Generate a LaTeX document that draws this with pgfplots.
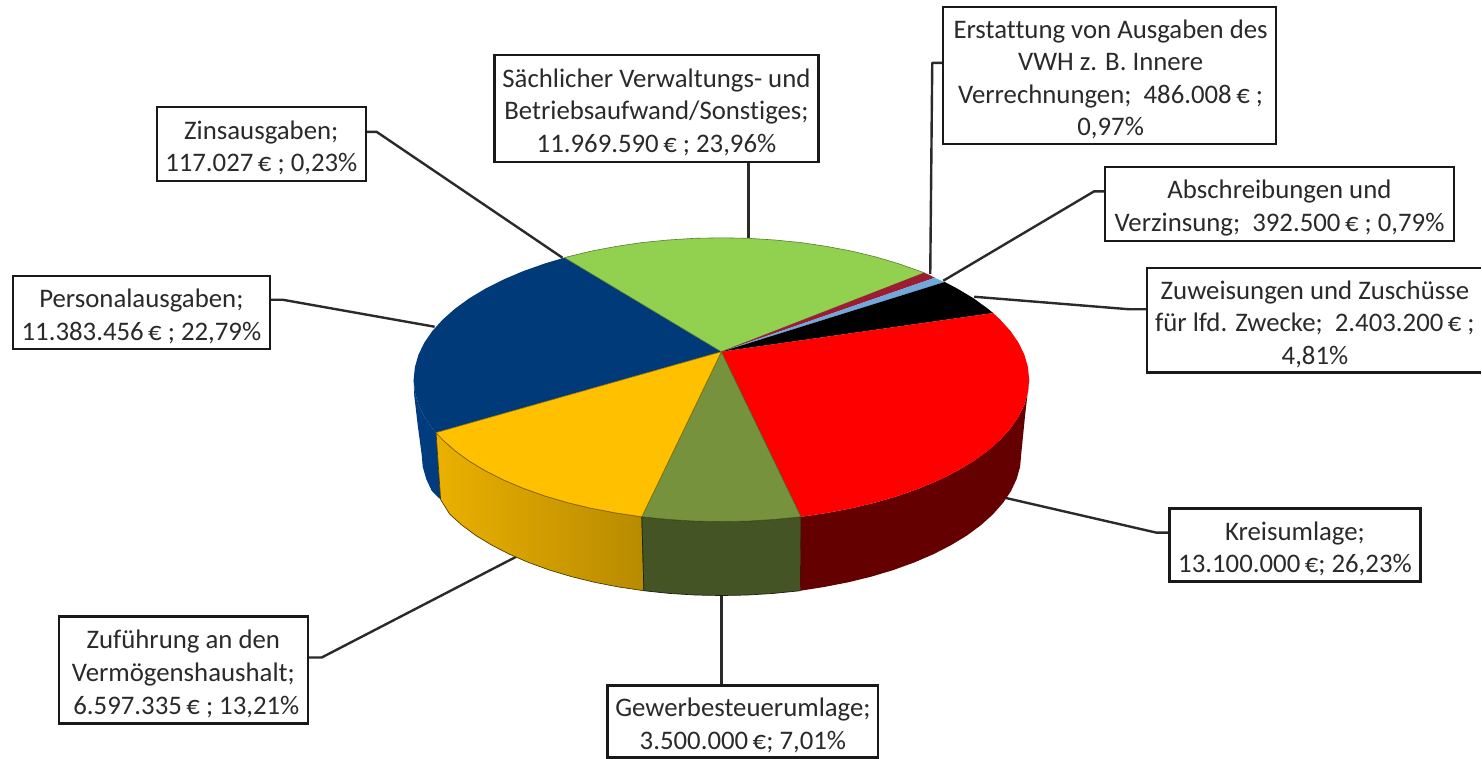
\documentclass[border=0pt]{standalone}
\usepackage{pgfplots}
\pgfplotsset{compat=1.18}
\usepackage{fontspec}
\setmainfont{Carlito}[Ligatures=NoCommon]
\definecolor{cgreen}{HTML}{92D050}
\definecolor{cdred}{HTML}{9E1B32}
\definecolor{clblue}{HTML}{6FA8DC}
\definecolor{cred}{HTML}{FF0000}
\definecolor{cdside}{HTML}{640000}
\definecolor{colive}{HTML}{76923C}
\definecolor{coside}{HTML}{445424}
\definecolor{cyellow}{HTML}{FFC000}
\definecolor{cnavy}{HTML}{003A78}
\definecolor{cnside}{HTML}{003C7E}
\definecolor{ctext}{HTML}{2A2A2A}
\pgfplotsset{
  lead/.style={draw=ctext,line width=1.2pt,line join=round,no markers,forget plot},
  wedge/.style={no markers,forget plot,line join=round}}
\begin{document}
\begin{tikzpicture}[
  box/.style={draw=black!90,line width=1.2pt,fill=white,inner sep=0pt},
  txt/.style={align=center,text=ctext,font=\fontsize{13.4}{16.3}\selectfont,inner sep=0pt,yshift=-2pt}]
\begin{axis}[
  scale only axis,width=741pt,height=379.5pt,
  xmin=0,xmax=1482,ymin=0,ymax=759,y dir=reverse,
  axis lines=none,clip=false]
\addplot[draw=none,no markers,forget plot] coordinates {(0,0)(1482,759)};
% leader lines
\addplot[lead] coordinates {(944,63)(933,63)(931,274)};
\addplot[lead] coordinates {(1106,191.5)(1095,191.5)(944,281)};
\addplot[lead] coordinates {(1148,309.5)(1130,309.5)(975,297)};
\addplot[lead] coordinates {(1170,533)(1157,533)(1005,498)};
\addplot[lead] coordinates {(722,686)(722,596)};
\addplot[lead] coordinates {(308,658)(322,658)(517,557)};
\addplot[lead] coordinates {(270,300)(283,300)(435,327)};
\addplot[lead] coordinates {(366,132)(377,132)(563,258)};
\addplot[lead] coordinates {(749,162)(749,238)};
% side: navy
\addplot[wedge,fill=cnside,draw=none] coordinates {(436.4,433)(432.6,428.6)(424.5,416.8)(418.7,404.7)(415.2,392.4)(414,380)(414.5,395)(418,425)(422,455)(423.1,467.3)(426.6,479.5)(432.2,491.5)(441,500)} --cycle;
% side: yellow
\addplot[wedge,left color=cyellow!92!black,right color=cyellow!72!black,draw=black!70!cyellow,line width=0.35pt] coordinates {(642.3,517.2)(616.7,513.4)(591.8,508.7)(568,503)(545.3,496.3)(524,488.8)(504.2,480.4)(486.1,471.3)(469.7,461.5)(455.3,451)(442.9,440)(436.4,433)(441,500)(450.1,514.6)(462.2,525.5)(476.2,535.9)(492.2,545.6)(509.9,554.7)(529.2,563)(549.9,570.5)(572,577.1)(595.2,582.8)(619.4,587.5)(644.4,591.2)} --cycle;
% side: olive
\addplot[wedge,fill=coside,draw=black!60!coside,line width=0.35pt] coordinates {(801.7,517.2)(775.5,519.8)(748.9,521.5)(722,522)(695.1,521.5)(668.5,519.8)(642.3,517.2)(644.4,591.2)(669.9,593.9)(695.8,595.5)(722,596)(748.2,595.5)(774.1,593.9)(801,591.2)} --cycle;
% side: red
\addplot[wedge,fill=cdside,draw=none] coordinates {(1030,380)(1028.8,392.4)(1025.3,404.7)(1019.5,416.8)(1011.4,428.6)(1001.1,440)(988.7,451)(974.3,461.5)(957.9,471.3)(939.8,480.4)(920,488.8)(898.7,496.3)(876,503)(852.2,508.7)(827.3,513.4)(801.7,517.2)(801,591.2)(824.6,587.5)(848.8,582.8)(872,577.1)(894.1,570.5)(914.8,563)(934.1,554.7)(951.8,545.6)(967.8,535.9)(981.8,525.5)(993.9,514.6)(1003.9,503.2)(1011.8,491.5)(1017.4,479.5)(1020.9,467.3)(1022,455)(1026,415)} --cycle;
% top: navy
\addplot[wedge,fill=cnavy,draw=none] coordinates {(722,352)(436.4,433)(432.6,428.6)(424.5,416.8)(418.7,404.7)(415.2,392.4)(414,380)(415.2,367.6)(418.7,355.3)(424.5,343.2)(432.6,331.4)(442.9,320)(455.3,309)(469.7,298.5)(486.1,288.7)(504.2,279.6)(524,271.2)(545.3,263.7)(565,257.8)} --cycle;
% top: green
\addplot[wedge,fill=cgreen,draw=cgreen!60!black,line width=0.3pt] coordinates {(722,352)(565,257.8)(568,257)(591.8,251.3)(616.7,246.6)(642.3,242.8)(668.5,240.2)(695.1,238.5)(722,238)(748.9,238.5)(775.5,240.2)(801.7,242.8)(827.3,246.6)(852.2,251.3)(876,257)(898.7,263.7)(920,271.2)(925,273)} --cycle;
% top: dark red
\addplot[wedge,fill=cdred,draw=none] coordinates {(722,352)(925,273)(930,275)(935.5,278)} --cycle;
% top: light blue
\addplot[wedge,fill=clblue,draw=none] coordinates {(722,352)(935.5,278)(940,280)(945.5,282.2)} --cycle;
% top: black
\addplot[wedge,fill=black,draw=none] coordinates {(722,352)(945.5,282.2)(957.9,288.7)(974.3,298.5)(988.7,309)(994,313.3)} --cycle;
% top: red
\addplot[wedge,fill=cred,draw=none] coordinates {(722,352)(994,313.3)(1001.1,320)(1011.4,331.4)(1019.5,343.2)(1025.3,355.3)(1028.8,367.6)(1030,380)(1028.8,392.4)(1025.3,404.7)(1019.5,416.8)(1011.4,428.6)(1001.1,440)(988.7,451)(974.3,461.5)(957.9,471.3)(939.8,480.4)(920,488.8)(898.7,496.3)(876,503)(852.2,508.7)(827.3,513.4)(801.7,517.2)} --cycle;
% top: olive
\addplot[wedge,fill=colive,draw=colive!60!black,line width=0.3pt] coordinates {(722,352)(801.7,517.2)(775.5,519.8)(748.9,521.5)(722,522)(695.1,521.5)(668.5,519.8)(642.3,517.2)} --cycle;
% top: yellow
\addplot[wedge,fill=cyellow,draw=cyellow!55!black,line width=0.3pt] coordinates {(722,352)(642.3,517.2)(616.7,513.4)(591.8,508.7)(568,503)(545.3,496.3)(524,488.8)(504.2,480.4)(486.1,471.3)(469.7,461.5)(455.3,451)(442.9,440)(436.4,433)} --cycle;
% boxes
\node[box,minimum width=166.5pt,minimum height=68.5pt] at (axis cs:1110.5,75.5) {};
\node[box,minimum width=174.5pt,minimum height=37pt] at (axis cs:1280.5,204) {};
\node[box,minimum width=125.5pt,minimum height=36.5pt] at (axis cs:1296,545.5) {};
\node[box,minimum width=135.5pt,minimum height=36pt] at (axis cs:743.5,722) {};
\node[box,minimum width=124.5pt,minimum height=53.5pt] at (axis cs:183.5,670.5) {};
\node[box,minimum width=128.5pt,minimum height=36.5pt] at (axis cs:141.5,312.5) {};
\node[box,minimum width=104.5pt,minimum height=37pt] at (axis cs:261.5,144) {};
\node[box,minimum width=162pt,minimum height=53.5pt] at (axis cs:657,108.5) {};
% Zuweisungen box runs off the right edge
\addplot[no markers,forget plot,draw=black!90,line width=1.2pt,fill=white] coordinates {(1482,268)(1148,268)(1148,373)(1482,373)};
% texts
\node[txt] at (axis cs:1111.5,75.5) {Erstattung von Ausgaben des\\VWH z. B. Innere\\Verrechnungen;\ \ 486.008\,€ ;\\0,97\%};
\node[txt] at (axis cs:1280.5,204) {Abschreibungen und\\Verzinsung;\ \ 392.500\,€ ; 0,79\%};
\node[txt] at (axis cs:1316,320.5) {Zuweisungen und Zuschüsse\\für lfd. Zwecke;\ \ 2.403.200\,€ ;\\4,81\%};
\node[txt] at (axis cs:1296,545.5) {Kreisumlage;\\13.100.000\,€; 26,23\%};
\node[txt] at (axis cs:743.5,722) {Gewerbesteuerumlage;\\3.500.000\,€; 7,01\%};
\node[txt] at (axis cs:183.5,670.5) {Zuführung an den\\Vermögenshaushalt;\\\ 6.597.335\,€ ; 13,21\%};
\node[txt] at (axis cs:141.5,312.5) {Personalausgaben;\\11.383.456\,€ ; 22,79\%};
\node[txt] at (axis cs:261.5,144) {Zinsausgaben;\\117.027\,€ ; 0,23\%};
\node[txt] at (axis cs:657,108.5) {Sächlicher Verwaltungs- und\\Betriebsaufwand/Sonstiges;\\11.969.590\,€ ; 23,96\%};
\end{axis}
\end{tikzpicture}
\end{document}
